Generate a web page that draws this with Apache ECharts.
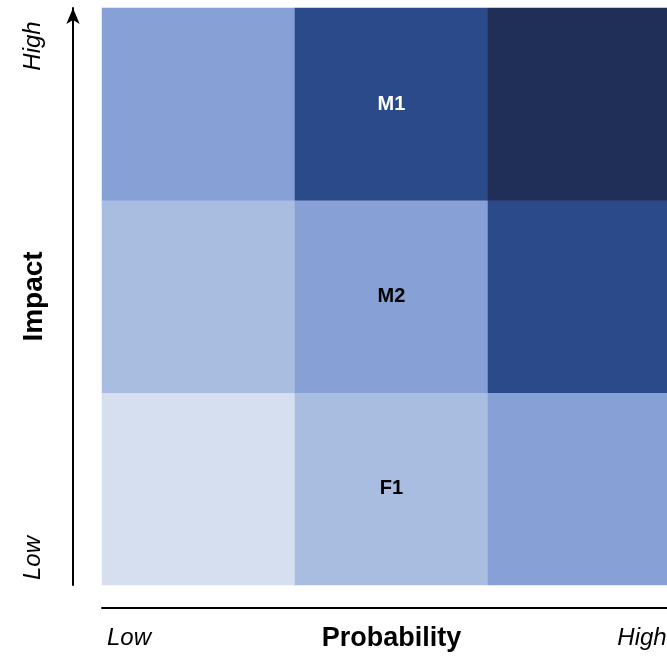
<!DOCTYPE html>
<html><head><meta charset="utf-8">
<script src="https://cdn.jsdelivr.net/npm/echarts@6/dist/echarts.min.js"></script>
<style>html,body{margin:0;padding:0;background:#fff}#c{width:667px;height:656px}</style>
</head><body><div id="c"></div>
<script>
var probabilityCats = ['Low', 'Medium', 'High'];
var impactCats = ['Low', 'Medium', 'High'];
// risk level per cell, rows = impact (Low→High), cols = probability (Low→High)
var riskLevels = [
  [1, 2, 3],
  [2, 3, 4],
  [3, 4, 5]
];
var levelColors = ['#D6DFEF', '#A9BDE0', '#87A1D6', '#2A4A8A', '#1F2F57'];
var cellNames = ['F1', 'M2', 'M1'];
var cellProb = [1, 1, 1];
var cellImpact = [0, 1, 2];
var axisEndLabels = ['Low', 'High'];

var data = [];
for (var i = 0; i < impactCats.length; i++) {
  for (var j = 0; j < probabilityCats.length; j++) {
    var name = '';
    for (var k = 0; k < cellNames.length; k++) {
      if (cellProb[k] === j && cellImpact[k] === i) name = cellNames[k];
    }
    var lvl = riskLevels[i][j];
    data.push({
      value: [j, i, lvl],
      name: name,
      itemStyle: { color: levelColors[lvl - 1] },
      label: { color: lvl >= 4 ? '#ffffff' : '#000000' }
    });
  }
}

var chart = echarts.init(document.getElementById('c'));
var FONT = 'Liberation Sans, Arial, sans-serif';
chart.setOption({
  animation: false,
  grid: { left: 102, top: 8, width: 579, height: 577, outerBoundsMode: 'none', containLabel: false },
  xAxis: {
    type: 'category', data: probabilityCats, offset: 23,
    axisLine: { show: true, lineStyle: { color: '#000', width: 2 } },
    axisTick: { show: false }, axisLabel: { show: false }, splitLine: { show: false },
    name: 'Probability', nameLocation: 'middle', nameGap: 17,
    nameTextStyle: { fontFamily: FONT, fontWeight: 'bold', fontSize: 27, color: '#000' }
  },
  yAxis: {
    type: 'category', data: impactCats, offset: 29,
    axisLine: { show: true, symbol: ['none', 'arrow'], symbolSize: [10, 16], symbolOffset: [0, 0],
      lineStyle: { color: '#000', width: 2 } },
    axisTick: { show: false }, axisLabel: { show: false }, splitLine: { show: false },
    name: 'Impact', nameLocation: 'middle', nameGap: 25,
    nameTextStyle: { fontFamily: FONT, fontWeight: 'bold', fontSize: 28, color: '#000' }
  },
  graphic: [
    { type: 'text', x: 33, y: 46, rotation: Math.PI / 2, style: { text: axisEndLabels[1], font: 'italic 24px ' + FONT, fill: '#000', textAlign: 'center', textVerticalAlign: 'middle' } },
    { type: 'text', x: 33, y: 558, rotation: Math.PI / 2, style: { text: axisEndLabels[0], font: 'italic 24px ' + FONT, fill: '#000', textAlign: 'center', textVerticalAlign: 'middle' } },
    { type: 'text', x: 129, y: 638, style: { text: axisEndLabels[0], font: 'italic 24px ' + FONT, fill: '#000', textAlign: 'center', textVerticalAlign: 'middle' } },
    { type: 'text', x: 642, y: 638, style: { text: axisEndLabels[1], font: 'italic 24px ' + FONT, fill: '#000', textAlign: 'center', textVerticalAlign: 'middle' } }
  ],
  series: [{
    type: 'heatmap',
    data: data,
    label: {
      show: true, fontFamily: FONT, fontWeight: 'bold', fontSize: 20,
      formatter: function (p) { return p.name; }
    },
    itemStyle: { borderWidth: 0 },
    emphasis: { disabled: true }
  }]
});
</script></body></html>
